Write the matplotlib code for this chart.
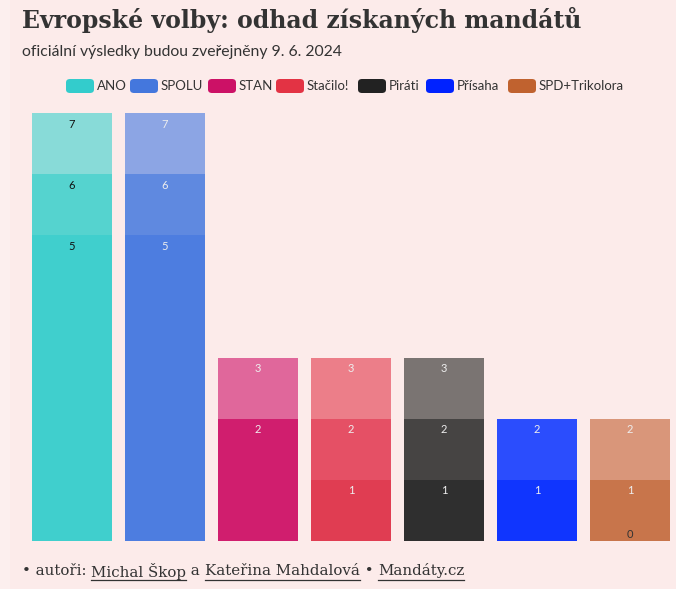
import matplotlib
matplotlib.use("Agg")
import matplotlib.pyplot as plt
from matplotlib.patches import FancyBboxPatch, Rectangle
from matplotlib.lines import Line2D

parties = ['ANO', 'SPOLU', 'STAN', 'Stačilo!', 'Piráti', 'Přísaha', 'SPD+Trikolora']
levels = [[5, 6, 7], [5, 6, 7], [2, 3], [1, 2, 3], [1, 2, 3], [1, 2], [0, 1, 2]]
legend_colors = ['#33cccc', '#4477dd', '#cc1166', '#e33344', '#222222', '#0022ff', '#c0622f']
layer_colors = [
    ['#40cfcd', '#55d3cf', '#88dbd8'],
    ['#4d7de0', '#5f89e0', '#8ca5e4'],
    ['#d01e6e', '#e0679b'],
    ['#e03d52', '#e55065', '#ec7e89'],
    ['#2f2f2f', '#464443', '#7a7472'],
    ['#1035fe', '#2b4dfd'],
    ['#c8754b', '#c8754b', '#d9967a'],
]
label_colors = ['#111111', '#eeeeee', '#eeeeee', '#eeeeee', '#eeeeee', '#eeeeee', '#eeeeee']

W, H = 676, 589
bg = '#fcebea'
fig = plt.figure(figsize=(W / 100, H / 100), dpi=100)
fig.patch.set_facecolor(bg)
fig.patches.append(Rectangle((0, 0), 10 / W, 1, transform=fig.transFigure,
                             facecolor='#fcefee', edgecolor='none', zorder=-1))

# axes mapping: bar centers at 72 + 93*i px, baseline at y=541 px, 7 seats at y=113 px
ax = fig.add_axes([0, (H - 541) / H, 1, (541 - 113) / H])
ax.set_facecolor('none')
ax.set_xlim(-72 / 93, (W - 72) / 93)
ax.set_ylim(0, 7)
ax.axis('off')

bw = 80 / 93
seat_px = (541 - 113) / 7
for i, (p, lv) in enumerate(zip(parties, levels)):
    prev = 0
    for j, top in enumerate(lv):
        h = top - prev
        if h > 0:
            ax.bar(i, h, bottom=prev, width=bw, color=layer_colors[i][j],
                   edgecolor='none', clip_on=False)
        col = label_colors[i]
        if top == 0:
            col = '#333333'
        off = 11 / seat_px
        ax.text(i, top - off if top > 0 else 0.02, str(top), ha='center',
                va='center' if top > 0 else 'bottom', fontsize=8,
                color=col, family='Lato', clip_on=False)
        prev = top

# title & subtitle
fig.text(22 / W, 1 - 20 / H, 'Evropské volby: odhad získaných mandátů',
         fontsize=17, fontweight='bold', family='DejaVu Serif', color='#333333',
         ha='left', va='center')
fig.text(22 / W, 1 - 52 / H, 'oficiální výsledky budou zveřejněny 9. 6. 2024',
         fontsize=11.3, family='Lato', color='#333333', ha='left', va='center')

# legend
box_x = [66, 130, 208, 276, 358, 426, 508]
for x, name, c in zip(box_x, parties, legend_colors):
    fig.patches.append(FancyBboxPatch((x / W, 1 - 93 / H), 28 / W, 14 / H,
                                      boxstyle='round,pad=0,rounding_size=0.006',
                                      transform=fig.transFigure, facecolor=c,
                                      edgecolor='none'))
    fig.text((x + 31) / W, 1 - 86 / H, name, fontsize=9.5, family='Lato',
             color='#333333', ha='left', va='center')

# footer with underlined links
fig.canvas.draw()
renderer = fig.canvas.get_renderer()
parts = [('• autoři: ', False), ('Michal Škop', True), (' a ', False),
         ('Kateřina Mahdalová', True), (' • ', False), ('Mandáty.cz', True)]
x = 22
y = 1 - 571 / H
for s, ul in parts:
    t = fig.text(x / W, y, s, fontsize=10.8, family='DejaVu Serif', color='#333333',
                 ha='left', va='center')
    bb = t.get_window_extent(renderer)
    if ul:
        fig.lines.append(Line2D([x / W, (x + bb.width) / W], [1 - 580 / H, 1 - 580 / H],
                                transform=fig.transFigure, color='#333333', lw=0.9))
    x += bb.width

fig.savefig('out.png', dpi=100, facecolor=bg)
